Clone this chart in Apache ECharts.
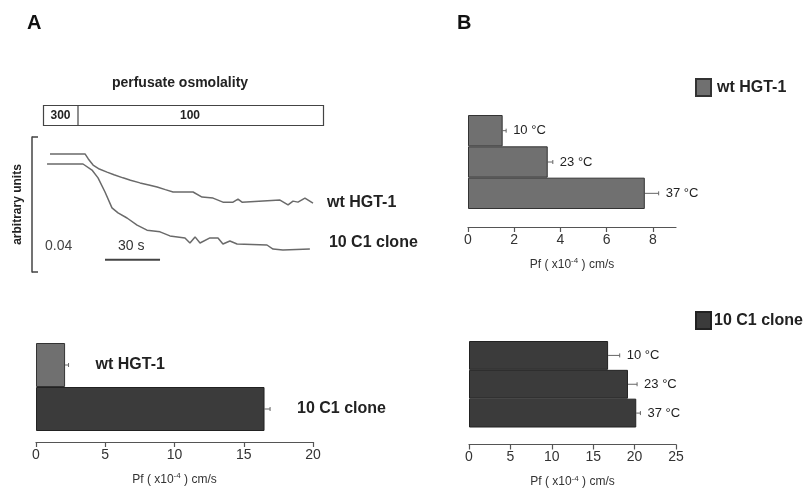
<!DOCTYPE html>
<html>
<head>
<meta charset="utf-8">
<script src="https://cdn.jsdelivr.net/npm/echarts@6/dist/echarts.min.js"></script>
<style>html,body{margin:0;padding:0;background:#fff}#c{width:804px;height:489px}</style>
</head>
<body>
<div id="c"></div>
<script>
// ---- Data ----
// Panel A traces: time (s) and signal (arbitrary units)
const wtTraceT = [1.6, 20.7, 22.5, 25.1, 28.5, 32.7, 36.5, 41.4, 45.5, 50.7, 55.5, 60.0, 64.5, 68.7, 79.6, 84.5, 90.5, 95.9, 101.4, 104.1, 106.3, 127.0, 131.4, 134.1, 136.8, 140.6, 145.0];
const wtTraceY = [0.0350, 0.0350, 0.0335, 0.0317, 0.0305, 0.0296, 0.0288, 0.0279, 0.0272, 0.0264, 0.0258, 0.0252, 0.0244, 0.0237, 0.0237, 0.0222, 0.0219, 0.0207, 0.0207, 0.0216, 0.0207, 0.0213, 0.0199, 0.0210, 0.0207, 0.0219, 0.0204];
const cloneTraceT = [0, 19.6, 24.5, 27.8, 31.6, 35.4, 38.7, 43.6, 49.1, 54.5, 61.6, 67.0, 75.2, 77.9, 80.7, 83.4, 88.8, 93.2, 95.9, 99.7, 103.6, 119.9, 123.2, 128.6, 143.3];
const cloneTraceY = [0.0320, 0.0320, 0.0302, 0.0279, 0.0237, 0.0190, 0.0175, 0.0160, 0.0139, 0.0124, 0.0119, 0.0107, 0.0101, 0.0086, 0.0104, 0.0086, 0.0101, 0.0101, 0.0083, 0.0092, 0.0083, 0.0080, 0.0068, 0.0065, 0.0068];
const scaleBarT = [31.6, 61.6];
const scaleBarY = [0.0036, 0.0036];
const osmoLabels = ['300', '100'];

// Panel A bottom
const panelACats = ['wt HGT-1', '10 C1 clone'];
const panelAPf = [2.1, 16.5];
const panelAErr = [0.25, 0.4];
const panelATicks = [0, 5, 10, 15, 20];

// Panel B
const tempCats = ['10 °C', '23 °C', '37 °C'];
const wtTempPf = [1.5, 3.45, 7.65];
const wtTempErr = [0.15, 0.22, 0.6];
const cloneTempPf = [16.8, 19.2, 20.2];
const cloneTempErr = [1.4, 1.1, 0.5];

// ---- Styles ----
const FONT = '"Liberation Sans", Arial, Helvetica, sans-serif';
const WT_COLOR = '#707070';
const CLONE_COLOR = '#3b3b3b';
const AXIS_COLOR = '#555';
const TEXT_COLOR = '#333';

const pfName = {
  formatter: '{a|Pf ( x10}{s|-4}{a| ) cm/s}',
  rich: {
    a: {fontSize: 12, fontFamily: FONT, color: TEXT_COLOR},
    s: {fontSize: 8, fontFamily: FONT, color: TEXT_COLOR, verticalAlign: 'top', padding: [0, 0, 7, 0]}
  }
};

function valueAxis(gridIndex, max, interval, offset) {
  return {
    type: 'value', gridIndex, min: 0, max, interval, offset,
    axisLine: {show: true, lineStyle: {color: AXIS_COLOR, width: 1.2}},
    axisTick: {show: true, length: 5, lineStyle: {color: AXIS_COLOR, width: 1.2}},
    axisLabel: {fontSize: 14, color: TEXT_COLOR, fontFamily: FONT, margin: 6, showMaxLabel: max % interval === 0},
    splitLine: {show: false},
    name: pfName.formatter, nameLocation: 'middle', nameGap: 30,
    nameTextStyle: {rich: pfName.rich}
  };
}
function catAxis(gridIndex, data) {
  return {type: 'category', gridIndex, data, inverse: true, show: false, boundaryGap: true};
}
function errSeries(xi, yi, cats, vals, errs, labelGap, labelFont) {
  return {
    type: 'custom', xAxisIndex: xi, yAxisIndex: yi, silent: true,
    data: vals.map((v, i) => [i, v, errs[i]]),
    encode: {x: 1, y: 0},
    renderItem: function (params, api) {
      const c = api.value(0), v = api.value(1), e = api.value(2);
      const p0 = api.coord([v, c]);
      const p1 = api.coord([v + e, c]);
      const ls = {stroke: '#666', lineWidth: 1};
      return {
        type: 'group',
        children: [
          {type: 'line', shape: {x1: p0[0], y1: p0[1], x2: p1[0], y2: p1[1]}, style: ls},
          {type: 'line', shape: {x1: p1[0], y1: p1[1] - 2, x2: p1[0], y2: p1[1] + 2}, style: ls},
          {type: 'text', x: p1[0] + labelGap, y: p0[1],
           style: {text: cats[params.dataIndex], font: labelFont, fill: '#222', verticalAlign: 'middle', align: 'left'}}
        ]
      };
    }
  };
}

const chart = echarts.init(document.getElementById('c'), null, {renderer: 'canvas'});
chart.setOption({
  animation: false,
  backgroundColor: '#fff',
  textStyle: {fontFamily: FONT},
  grid: [
    {left: 32, top: 137, width: 281, height: 135},
    {left: 36, top: 343, width: 277, height: 88},
    {left: 468, top: 115, width: 208, height: 94},
    {left: 469, top: 341, width: 207, height: 94}
  ],
  xAxis: [
    {type: 'value', gridIndex: 0, min: -8.2, max: 145, show: false},
    valueAxis(1, 20, 5, 11),
    valueAxis(2, 9, 2, 18),
    valueAxis(3, 25, 5, 17)
  ],
  yAxis: [
    {type: 'value', gridIndex: 0, min: 0, max: 0.04, interval: 0.04,
     axisLine: {show: true, onZero: false, lineStyle: {color: '#444', width: 1.5}},
     axisTick: {show: true, inside: true, length: 6, lineStyle: {color: '#444', width: 1.5}},
     axisLabel: {show: false}, splitLine: {show: false},
     name: 'arbitrary units', nameLocation: 'middle', nameRotate: 90, nameGap: 8,
     nameTextStyle: {fontSize: 12, fontWeight: 'bold', color: '#222', fontFamily: FONT}},
    catAxis(1, panelACats),
    catAxis(2, tempCats),
    catAxis(3, tempCats)
  ],
  legend: [
    {data: ['wt HGT-1'], left: 690, top: 73, icon: 'rect', itemWidth: 15, itemHeight: 17, itemGap: 10,
     textStyle: {fontSize: 16, fontWeight: 'bold', color: '#222', fontFamily: FONT, padding: [0, 0, 0, 1]}, selectedMode: false},
    {data: ['10 C1 clone'], left: 690, top: 306, icon: 'rect', itemWidth: 15, itemHeight: 17,
     textStyle: {fontSize: 16, fontWeight: 'bold', color: '#222', fontFamily: FONT, padding: [0, 0, 0, -2]}, selectedMode: false}
  ],
  series: [
    {name: 'wt trace', type: 'line', xAxisIndex: 0, yAxisIndex: 0, symbol: 'none',
     data: wtTraceT.map((t, i) => [t, wtTraceY[i]]),
     lineStyle: {color: '#6a6a6a', width: 1.5},
     endLabel: {show: true, formatter: 'wt HGT-1', distance: 14, fontSize: 16, fontWeight: 'bold', color: '#222', fontFamily: FONT, offset: [0, -1]}},
    {name: 'clone trace', type: 'line', xAxisIndex: 0, yAxisIndex: 0, symbol: 'none',
     data: cloneTraceT.map((t, i) => [t, cloneTraceY[i]]),
     lineStyle: {color: '#6a6a6a', width: 1.5},
     endLabel: {show: true, formatter: '10 C1 clone', distance: 19, fontSize: 16, fontWeight: 'bold', color: '#222', fontFamily: FONT, offset: [0, -6]}},
    {name: 'scale bar', type: 'line', xAxisIndex: 0, yAxisIndex: 0, symbol: 'none',
     data: scaleBarT.map((t, i) => [t, scaleBarY[i]]),
     lineStyle: {color: '#444', width: 2},
     label: {show: false}},
    {name: 'panel A', type: 'bar', xAxisIndex: 1, yAxisIndex: 1, barCategoryGap: '0%',
     data: panelAPf.map((v, i) => ({value: v, itemStyle: {color: i === 0 ? WT_COLOR : CLONE_COLOR, borderColor: i === 0 ? '#333' : '#222', borderWidth: 1}}))},
    errSeries(1, 1, panelACats, panelAPf, panelAErr, 27, 'bold 16px ' + FONT),
    {name: 'wt HGT-1', type: 'bar', xAxisIndex: 2, yAxisIndex: 2, barCategoryGap: '0%',
     itemStyle: {color: WT_COLOR, borderColor: '#333', borderWidth: 1},
     data: wtTempPf},
    errSeries(2, 2, tempCats, wtTempPf, wtTempErr, 7, '13px ' + FONT),
    {name: '10 C1 clone', type: 'bar', xAxisIndex: 3, yAxisIndex: 3, barCategoryGap: '0%',
     itemStyle: {color: CLONE_COLOR, borderColor: '#222', borderWidth: 1},
     data: cloneTempPf},
    errSeries(3, 3, tempCats, cloneTempPf, cloneTempErr, 7, '13px ' + FONT)
  ],
  graphic: [
    {type: 'text', left: 27, top: 13, style: {text: 'A', font: 'bold 20px ' + FONT, fill: '#111'}},
    {type: 'text', left: 457, top: 13, style: {text: 'B', font: 'bold 20px ' + FONT, fill: '#111'}},
    {type: 'text', x: 180, y: 83, style: {text: 'perfusate osmolality', font: 'bold 14px ' + FONT, fill: '#222', align: 'center', verticalAlign: 'middle'}},
    {type: 'rect', shape: {x: 43.5, y: 105.5, width: 280, height: 20}, style: {fill: '#fff', stroke: '#444', lineWidth: 1.2}},
    {type: 'line', shape: {x1: 78, y1: 105.5, x2: 78, y2: 125.5}, style: {stroke: '#444', lineWidth: 1.2}},
    {type: 'text', x: 60.5, y: 115.5, style: {text: osmoLabels[0], font: 'bold 12px ' + FONT, fill: '#222', align: 'center', verticalAlign: 'middle'}},
    {type: 'text', x: 190, y: 115.5, style: {text: osmoLabels[1], font: 'bold 12px ' + FONT, fill: '#222', align: 'center', verticalAlign: 'middle'}},
    {type: 'text', x: 45, y: 246, style: {text: '0.04', font: '14px ' + FONT, fill: '#444', verticalAlign: 'middle'}},
    {type: 'text', x: 118, y: 246, style: {text: '30 s', font: '14px ' + FONT, fill: '#333', verticalAlign: 'middle'}}
  ]
});
</script>
</body>
</html>
